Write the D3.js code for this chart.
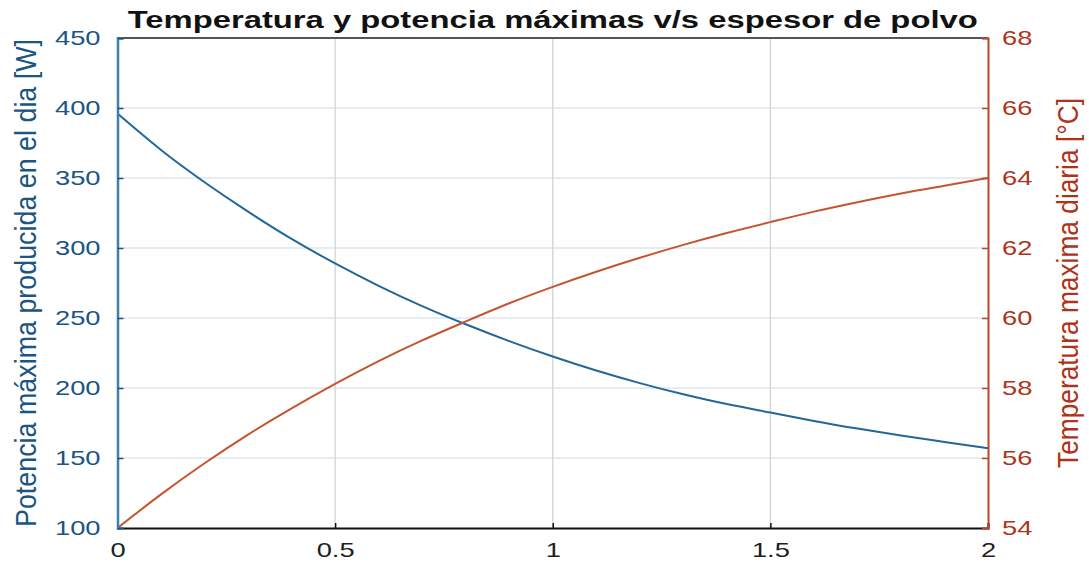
<!DOCTYPE html>
<html>
<head>
<meta charset="utf-8">
<script src="https://cdn.jsdelivr.net/npm/d3@7"></script>
<style>
  body { margin: 0; background: #fff; }
  text { font-family: "Liberation Sans", Arial, sans-serif; }
</style>
</head>
<body>
<div id="chart"></div>
<script>
// espesor de polvo (x)
var espesor = [0, 0.1, 0.2, 0.3, 0.4, 0.5, 0.6, 0.7, 0.8, 0.9, 1.0,
               1.1, 1.2, 1.3, 1.4, 1.5, 1.6, 1.7, 1.8, 1.9, 2.0];
// potencia maxima [W] (eje izquierdo)
var potencia = [396, 370, 347, 326, 306.5, 289, 273, 258.5, 245.5, 233.5, 222.5,
                212.5, 203.5, 195.5, 188.5, 182.5, 176.5, 171, 166, 161.5, 157];
// temperatura maxima [°C] (eje derecho)
var temperatura = [54, 54.96, 55.85, 56.67, 57.42, 58.12, 58.77, 59.36, 59.9, 60.42, 60.89,
                   61.32, 61.72, 62.09, 62.43, 62.74, 63.04, 63.31, 63.56, 63.78, 64.0];

var xTicks = [0, 0.5, 1, 1.5, 2];
var yLeftTicks = [100, 150, 200, 250, 300, 350, 400, 450];
var yRightTicks = [54, 56, 58, 60, 62, 64, 66, 68];

var width = 1089, height = 569;
var plotL = 117.5, plotR = 988, plotT = 38, plotB = 528;
var stretch = 1.3; // la imagen original viene estirada en horizontal

var colBlue = "#1a5585", colBlueLine = "#23679a", colBlueAxis = "#3f7fae";
var colRed = "#ad3418", colRedLine = "#c4552f", colRedAxis = "#b8472b";

var x = d3.scaleLinear().domain([0, 2]).range([plotL, plotR]);
var yL = d3.scaleLinear().domain([100, 450]).range([plotB, plotT]);
var yR = d3.scaleLinear().domain([54, 68]).range([plotB, plotT]);

var svg = d3.select("#chart")
    .append("svg")
    .attr("width", width)
    .attr("height", height);

// grid
svg.append("g")
    .selectAll("line")
    .data(yLeftTicks.slice(1, -1))
    .enter().append("line")
    .attr("x1", plotL).attr("x2", plotR)
    .attr("y1", function (d) { return yL(d); })
    .attr("y2", function (d) { return yL(d); })
    .style("stroke", "#dbe7f0")
    .style("stroke-width", 1.5);

svg.append("g")
    .selectAll("line")
    .data(xTicks.slice(1, -1))
    .enter().append("line")
    .attr("y1", plotT).attr("y2", plotB)
    .attr("x1", function (d) { return x(d); })
    .attr("x2", function (d) { return x(d); })
    .style("stroke", "#d6d8da")
    .style("stroke-width", 1.5);

// lines
var lineP = d3.line()
    .x(function (d, i) { return x(espesor[i]); })
    .y(function (d) { return yL(d); })
    .curve(d3.curveNatural);
var lineT = d3.line()
    .x(function (d, i) { return x(espesor[i]); })
    .y(function (d) { return yR(d); })
    .curve(d3.curveNatural);

svg.append("path")
    .datum(potencia)
    .attr("d", lineP)
    .style("fill", "none")
    .style("stroke", colBlueLine)
    .style("stroke-width", 2);

svg.append("path")
    .datum(temperatura)
    .attr("d", lineT)
    .style("fill", "none")
    .style("stroke", colRedLine)
    .style("stroke-width", 2);

// box top
svg.append("line")
    .attr("x1", plotL).attr("x2", plotR).attr("y1", plotT).attr("y2", plotT)
    .style("stroke", "#555").style("stroke-width", 2);

// axes
var axisB = svg.append("g")
    .attr("transform", "translate(0," + plotB + ")")
    .call(d3.axisBottom(x).tickValues(xTicks).tickSize(-5).tickPadding(14)
        .tickFormat(function (d) { return String(d); }));
axisB.select(".domain").style("stroke", "#111").style("stroke-width", 2);
axisB.selectAll(".tick line").style("stroke", "#111").style("stroke-width", 1.5);
axisB.selectAll("text").style("font-size", "21px").style("fill", "#1e1e1e").attr("dy", "0.72em");

var axisL = svg.append("g")
    .attr("transform", "translate(" + plotL + ",0)")
    .call(d3.axisLeft(yL).tickValues(yLeftTicks).tickSize(-6).tickPadding(17));
axisL.select(".domain").style("stroke", colBlueAxis).style("stroke-width", 2.5);
axisL.selectAll(".tick line").style("stroke", colBlue).style("stroke-width", 1.5);
axisL.selectAll("text").style("font-size", "21px").style("fill", colBlue);

var axisR = svg.append("g")
    .attr("transform", "translate(" + plotR + ",0)")
    .call(d3.axisRight(yR).tickValues(yRightTicks).tickSize(-6).tickPadding(14));
axisR.select(".domain").style("stroke", colRedAxis).style("stroke-width", 2);
axisR.selectAll(".tick line").style("stroke", colRedAxis).style("stroke-width", 1.5);
axisR.selectAll("text").style("font-size", "21px").style("fill", colRed);

// estirar el texto horizontal como en la imagen original
svg.selectAll("text").each(function () {
    var w = this.getComputedTextLength();
    d3.select(this).attr("textLength", w * stretch).attr("lengthAdjust", "spacingAndGlyphs");
});

// titulo
svg.append("text")
    .attr("x", (plotL + plotR) / 2)
    .attr("y", 28)
    .attr("text-anchor", "middle")
    .attr("textLength", 850)
    .attr("lengthAdjust", "spacingAndGlyphs")
    .style("font-size", "23px")
    .style("font-weight", "bold")
    .style("fill", "#111")
    .text("Temperatura y potencia máximas v/s espesor de polvo");

// etiquetas de los ejes (rotadas; glifos mas anchos en horizontal)
svg.append("text")
    .attr("transform", "translate(36," + (plotT + plotB) / 2 + ") rotate(-90) scale(1," + stretch + ")")
    .attr("text-anchor", "middle")
    .attr("textLength", 488)
    .attr("lengthAdjust", "spacingAndGlyphs")
    .style("font-size", "22px")
    .style("fill", colBlue)
    .text("Potencia máxima producida en el dia [W]");

svg.append("text")
    .attr("transform", "translate(1078," + (plotT + plotB) / 2 + ") rotate(-90) scale(1," + stretch + ")")
    .attr("text-anchor", "middle")
    .attr("textLength", 370)
    .attr("lengthAdjust", "spacingAndGlyphs")
    .style("font-size", "22px")
    .style("fill", colRed)
    .text("Temperatura maxima diaria [°C]");
</script>
</body>
</html>
